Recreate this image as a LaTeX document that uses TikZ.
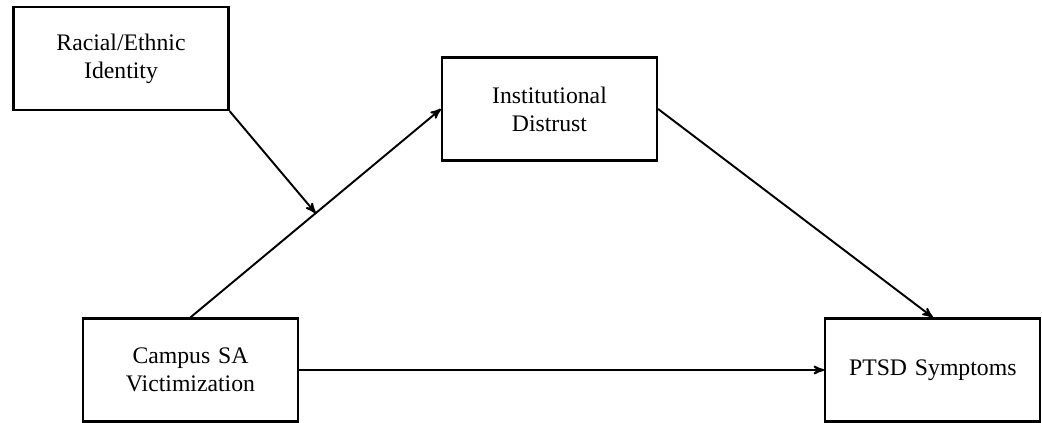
\documentclass[tikz,border=0pt]{standalone}
\usepackage{fontspec}
\setmainfont{Liberation Serif}
\usetikzlibrary{shapes,arrows,positioning}
\tikzset{
    %Define standard arrow tip
    >=stealth',
    %Define style for boxes
    block/.style={
           rectangle,
           draw=black,
           line width=1.3pt,
           text width=4cm,
           minimum width=4.3cm,
           minimum height=2.06cm,
           font=\fontsize{13.5}{16}\selectfont,
           text centered},
    % Define arrow style
    arrow/.style={
           ->,
           line width=1.1pt,
           }
}
\begin{document}
\begin{tikzpicture}
    \useasboundingbox (0,0) rectangle (20.84,-8.46);
    \node [block] (RACE) at (2.42,-1.17) {Racial/Ethnic\\Identity};
    \node [block] (DIST) at (10.99,-2.18) {Institutional\\Distrust};
    \node [block] (VICT) at (3.81,-7.40) {Campus SA\\Victimization};
    \node [block, right=10.5cm of VICT] (PTSD) {PTSD Symptoms};

	\draw[arrow] (VICT.north) -- coordinate[pos=0.5] (mod) (DIST.west);
	\draw[arrow] (DIST.east) -- (PTSD.north);
	\draw[arrow] (VICT) -- (PTSD);
	\draw[arrow] (RACE.south east) -- (mod);
\end{tikzpicture}
\end{document}
